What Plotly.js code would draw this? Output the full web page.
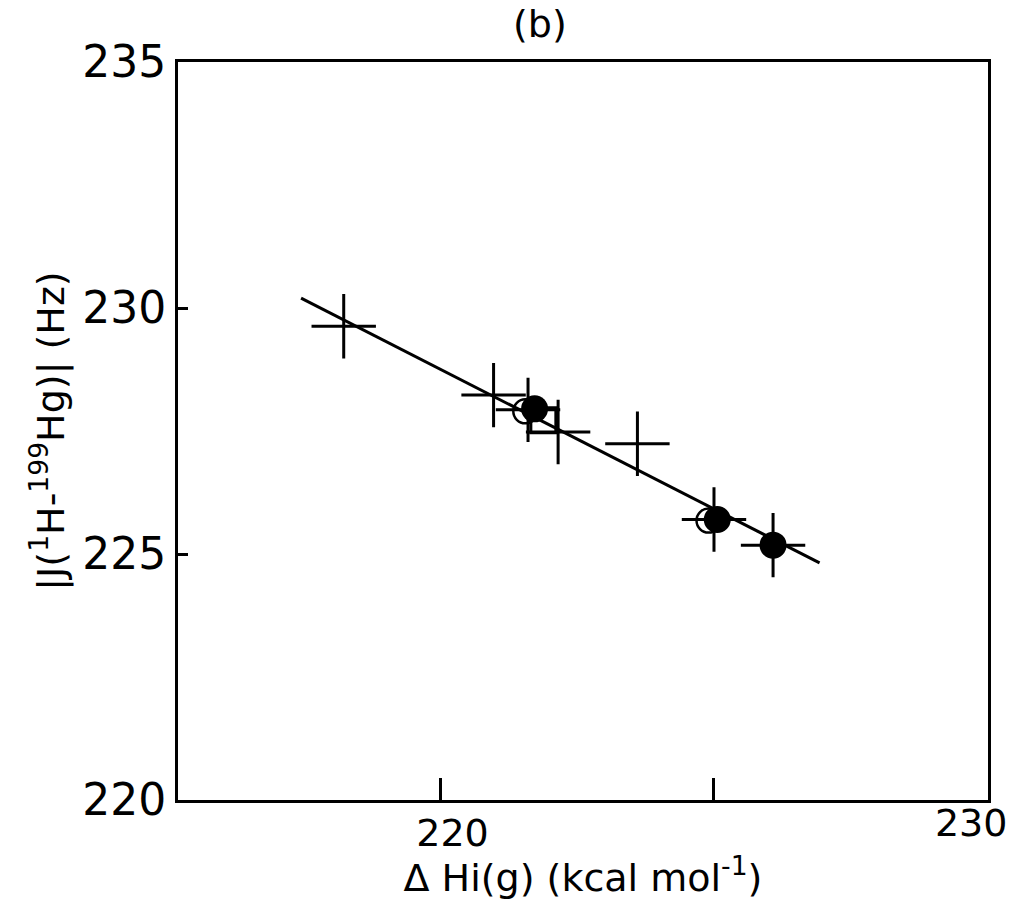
<!DOCTYPE html>
<html><head><meta charset="utf-8">
<script src="https://cdn.plot.ly/plotly-3.0.1.min.js"></script>
<style>body{margin:0;background:#fff}#chart{width:1011px;height:900px}</style>
</head><body><div id="chart"></div>
<script>
// Data
const crossX = [218.23, 220.97, 222.15, 223.6];
const crossY = [229.63, 228.23, 227.48, 227.24];
const smallCrossX = [221.6, 225.0, 226.08];
const smallCrossY = [227.93, 225.7, 225.18];
const openCircleX = [221.55, 224.9];
const openCircleY = [227.9, 225.68];
const filledCircleX = [221.72, 225.06, 226.08];
const filledCircleY = [227.95, 225.7, 225.18];
const squareX = [221.88];
const squareY = [227.72];
const fitX = [217.45, 226.93];
const fitY = [230.2, 224.82];
const xTickVals = [220, 225, 230];
const xTickText = ['220', ' ', ' '];
const xEndTickVals = [230];
const xEndTickText = ['230'];
const yTickVals = [220, 225, 230, 235];
const xRange = [215.2, 230.01];

const font = 'DejaVu Sans, sans-serif';
const traces = [
  {x: fitX, y: fitY, xaxis: 'x2', mode: 'lines', line: {color: '#000', width: 3}, hoverinfo: 'skip'},
  {x: crossX, y: crossY, mode: 'markers', marker: {symbol: 'cross-thin-open', size: 46, color: '#000', line: {color: '#000', width: 3}}},
  {x: squareX, y: squareY, mode: 'markers', marker: {symbol: 'square-open', size: 25, color: '#000', line: {color: '#000', width: 3}}},
  {x: smallCrossX, y: smallCrossY, mode: 'markers', marker: {symbol: 'cross-thin-open', size: 46, color: '#000', line: {color: '#000', width: 3}}},
  {x: openCircleX, y: openCircleY, mode: 'markers', marker: {symbol: 'circle-open', size: 24, color: '#000', line: {color: '#000', width: 2.5}}},
  {x: filledCircleX, y: filledCircleY, mode: 'markers', marker: {symbol: 'circle', size: 27, color: '#000'}}
];

const layout = {
  width: 1011, height: 900,
  margin: {l: 178, r: 23, t: 62, b: 100},
  paper_bgcolor: '#fff', plot_bgcolor: '#fff',
  showlegend: false,
  font: {family: font, color: '#000'},
  title: {text: '(b)', x: 0.534, xanchor: 'center', y: 0.988, yanchor: 'top', font: {size: 38, family: font, color: '#000'}},
  xaxis: {
    range: xRange, tickvals: xTickVals, ticktext: xTickText,
    ticks: 'inside', ticklen: 22, tickwidth: 3, tickcolor: '#000',
    ticklabelshift: 12, ticklabelstandoff: -3,
    showgrid: false, zeroline: false, showline: true, linecolor: '#000', linewidth: 3, mirror: true,
    tickfont: {size: 38, family: font, color: '#000'},
    title: {text: '\u0394 Hi(g) (kcal mol<sup>-1</sup>)', font: {size: 38, family: font, color: '#000'}, standoff: 10}
  },
  xaxis2: {
    range: xRange, overlaying: 'x', side: 'bottom', anchor: 'y',
    tickvals: xEndTickVals, ticktext: xEndTickText,
    ticks: '', ticklabelposition: 'outside left', ticklabelshift: 20, ticklabelstandoff: -3,
    showgrid: false, zeroline: false, showline: false,
    tickfont: {size: 38, family: font, color: '#000'}
  },
  yaxis: {
    range: [220, 235], tickvals: yTickVals,
    ticks: 'inside', ticklen: 10, tickwidth: 3, tickcolor: '#000',
    showgrid: false, zeroline: false, showline: true, linecolor: '#000', linewidth: 3, mirror: true,
    tickfont: {size: 44, family: font, color: '#000'},
    title: {text: '|J(<sup>1</sup>H-<sup>199</sup>Hg)| (Hz)', font: {size: 38, family: font, color: '#000'}, standoff: 6}
  }
};
Plotly.newPlot('chart', traces, layout, {displayModeBar: false, staticPlot: true});
</script></body></html>
